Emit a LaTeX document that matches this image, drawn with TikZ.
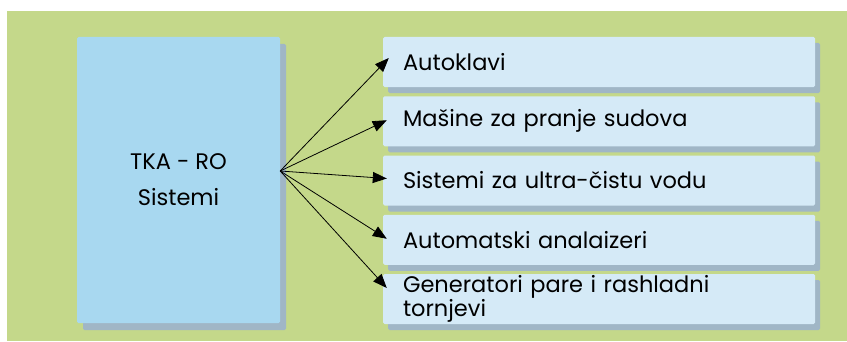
\documentclass[tikz,border=0pt]{standalone}
\usepackage{fontspec}
\setmainfont{Poppins}
\usepackage{tikz}
\usetikzlibrary{arrows.meta,shadows}
\definecolor{bggreen}{RGB}{196,216,138}
\definecolor{mainblue}{RGB}{168,216,240}
\definecolor{itemblue}{RGB}{213,234,247}
\definecolor{shadowgray}{RGB}{160,182,198}

\begin{document}
\begin{tikzpicture}[x=1pt,y=1pt,
  item/.style={rectangle,rounded corners=1.5pt,fill=itemblue,
    drop shadow={shadow xshift=5pt,shadow yshift=-6pt,fill=shadowgray,opacity=1},
    minimum width=432pt,minimum height=50pt,text width=392pt,inner xsep=20pt,
    inner ysep=1pt,align=left,font=\fontsize{22.5}{23.5}\selectfont},
  link/.style={-{Triangle[length=14pt,width=11pt]},line width=0.8pt}]
\useasboundingbox (0,0) rectangle (847,341);
\fill[white] (0,0) rectangle (847,341);
\fill[bggreen] (7,0) rectangle (847,330);
\node [rectangle,rounded corners=1.5pt,fill=mainblue,
  drop shadow={shadow xshift=6pt,shadow yshift=-7pt,fill=shadowgray,opacity=1},
  minimum width=203pt,minimum height=286pt,align=center,
  font=\fontsize{22.5}{36}\selectfont] (tka) at (178.5,161) {TKA - RO\\Sistemi};
\node [item] (b1) at (599,279) {Autoklavi};
\node [item] (b2) at (599,219.75) {Mašine za pranje sudova};
\node [item] (b3) at (599,160.5) {Sistemi za ultra-čistu vodu};
\node [item] (b4) at (599,101.25) {Automatski analaizeri};
\node [item] (b5) at (599,42) {Generatori pare i rashladni\\tornjevi};
\coordinate (hub) at ([yshift=9pt]tka.east);
\draw [link] (hub) -- ([shift={(6pt,4pt)}]b1.west);
\draw [link] (hub) -- ([shift={(4pt,1pt)}]b2.west);
\draw [link] (hub) -- ([shift={(4pt,2pt)}]b3.west);
\draw [link] (hub) -- ([shift={(4pt,1pt)}]b4.west);
\draw [link] (hub) -- ([shift={(4pt,11pt)}]b5.west);
\end{tikzpicture}
\end{document}
